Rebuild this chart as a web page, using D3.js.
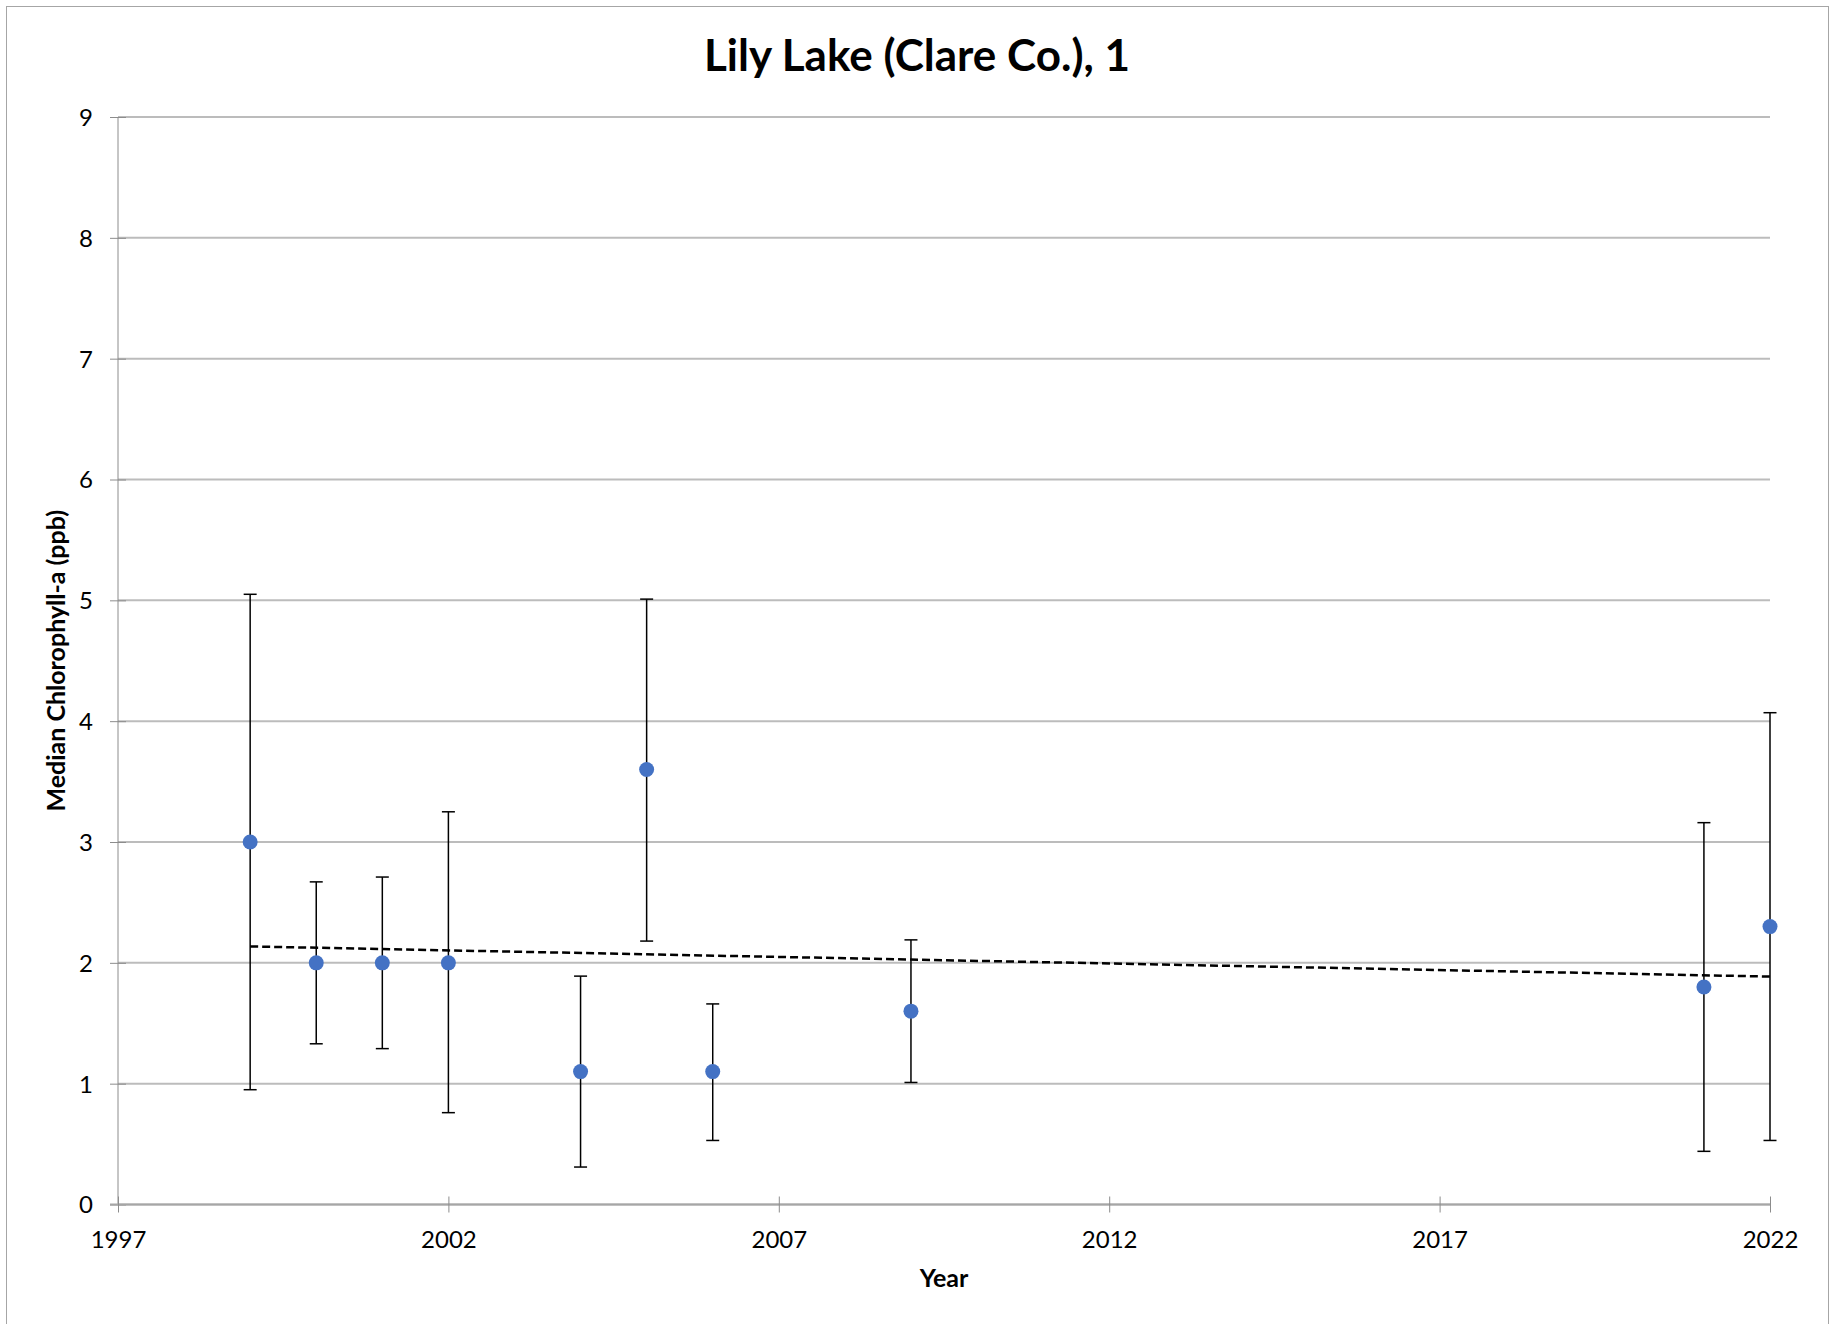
<!DOCTYPE html>
<html>
<head>
<meta charset="utf-8">
<script src="https://cdn.jsdelivr.net/npm/d3@7"></script>
<style>
  body { margin: 0; background: #fff; }
  text { font-family: Lato, "Open Sans", sans-serif; fill: #000; }
</style>
</head>
<body>
<svg id="chart"></svg>
<script>
// data
var years = [1999, 2000, 2001, 2002, 2004, 2005, 2006, 2009, 2021, 2022];
var medians = [3.0, 2.0, 2.0, 2.0, 1.1, 3.6, 1.1, 1.6, 1.8, 2.3];
var errHigh = [5.05, 2.67, 2.71, 3.25, 1.89, 5.01, 1.66, 2.19, 3.16, 4.07];
var errLow = [0.95, 1.33, 1.29, 0.76, 0.31, 2.18, 0.53, 1.01, 0.44, 0.53];
var xTicks = [1997, 2002, 2007, 2012, 2017, 2022];
var yTicks = [0, 1, 2, 3, 4, 5, 6, 7, 8, 9];

// plot area edges (window.top is reserved, so no plain "top")
var W = 1837, H = 1324,
    pLeft = 118, pRight = 1770, pTop = 117, pBottom = 1204.5;

var svg = d3.select("#chart").attr("width", W).attr("height", H);

svg.append("rect")
    .attr("x", 6.5).attr("y", 6.5)
    .attr("width", 1822).attr("height", 1330)
    .attr("fill", "#fff")
    .attr("stroke", "#a6a6a6").attr("stroke-width", 1);

var x = d3.scaleLinear().domain([1997, 2022]).range([pLeft, pRight]);
var y = d3.scaleLinear().domain([0, 9]).range([pBottom, pTop]);

// gridlines
svg.append("g")
    .selectAll("line")
    .data(yTicks)
    .enter()
    .append("line")
    .attr("x1", pLeft).attr("x2", pRight)
    .attr("y1", function(d) { return y(d); })
    .attr("y2", function(d) { return y(d); })
    .attr("stroke", "#bcbcbc")
    .attr("stroke-width", 2);

// y axis
var yAxis = svg.append("g")
    .attr("transform", "translate(" + pLeft + ",0)")
    .call(d3.axisLeft(y).tickValues(yTicks).tickFormat(d3.format("d")).tickSize(8));
yAxis.select(".domain").attr("stroke", "#8c8c8c").attr("d", "M0," + pTop + "V" + pBottom);
yAxis.selectAll(".tick line").attr("stroke", "#8c8c8c").attr("x1", -8).attr("x2", 8);
yAxis.selectAll(".tick text")
    .attr("font-size", 24).attr("font-family", "Lato, sans-serif").attr("fill", "#000")
    .attr("x", -25).attr("dy", "0.35em");

// x axis
var xAxis = svg.append("g")
    .attr("transform", "translate(0," + pBottom + ")")
    .call(d3.axisBottom(x).tickValues(xTicks).tickFormat(d3.format("d")).tickSize(8));
xAxis.select(".domain").attr("stroke", "#a6a6a6").attr("stroke-width", 2).attr("d", "M" + (pLeft - 8) + ",0H" + pRight);
xAxis.selectAll(".tick line").attr("stroke", "#8c8c8c").attr("y1", -8).attr("y2", 8);
xAxis.selectAll(".tick text")
    .attr("font-size", 24).attr("font-family", "Lato, sans-serif").attr("fill", "#000")
    .attr("y", 26).attr("dy", "0.71em");

// trendline (least squares through the medians)
var mx = d3.mean(years), my = d3.mean(medians);
var sxy = d3.sum(years, function(d, i) { return (d - mx) * (medians[i] - my); });
var sxx = d3.sum(years, function(d) { return (d - mx) * (d - mx); });
var slope = sxy / sxx, icept = my - slope * mx;
var ext = d3.extent(years);
svg.append("line")
    .attr("x1", x(ext[0])).attr("y1", y(icept + slope * ext[0]))
    .attr("x2", x(ext[1])).attr("y2", y(icept + slope * ext[1]))
    .attr("stroke", "#000")
    .attr("stroke-width", 2.5)
    .attr("stroke-dasharray", "8,4");

// error bars
var bars = svg.append("g").selectAll("g")
    .data(years)
    .enter()
    .append("g")
    .attr("stroke", "#000")
    .attr("stroke-width", 1.5);
bars.append("line")
    .attr("x1", function(d) { return x(d); })
    .attr("x2", function(d) { return x(d); })
    .attr("y1", function(d, i) { return y(errLow[i]); })
    .attr("y2", function(d, i) { return y(errHigh[i]); });
bars.append("line")
    .attr("x1", function(d) { return x(d) - 6.5; })
    .attr("x2", function(d) { return x(d) + 6.5; })
    .attr("y1", function(d, i) { return y(errHigh[i]); })
    .attr("y2", function(d, i) { return y(errHigh[i]); });
bars.append("line")
    .attr("x1", function(d) { return x(d) - 6.5; })
    .attr("x2", function(d) { return x(d) + 6.5; })
    .attr("y1", function(d, i) { return y(errLow[i]); })
    .attr("y2", function(d, i) { return y(errLow[i]); });

// points
svg.append("g").selectAll("circle")
    .data(years)
    .enter()
    .append("circle")
    .attr("cx", function(d) { return x(d); })
    .attr("cy", function(d, i) { return y(medians[i]); })
    .attr("r", 7.5)
    .attr("fill", "#4472C4");

// titles
svg.append("text")
    .attr("x", 917).attr("y", 71)
    .attr("text-anchor", "middle")
    .attr("font-size", 44).attr("font-weight", "bold")
    .text("Lily Lake (Clare Co.), 1");

svg.append("text")
    .attr("x", (pLeft + pRight) / 2).attr("y", 1287)
    .attr("text-anchor", "middle")
    .attr("font-size", 25).attr("font-weight", "bold")
    .text("Year");

svg.append("text")
    .attr("transform", "translate(65," + (pTop + pBottom) / 2 + ") rotate(-90)")
    .attr("text-anchor", "middle")
    .attr("font-size", 25).attr("font-weight", "bold")
    .text("Median Chlorophyll-a (ppb)");
</script>
</body>
</html>
